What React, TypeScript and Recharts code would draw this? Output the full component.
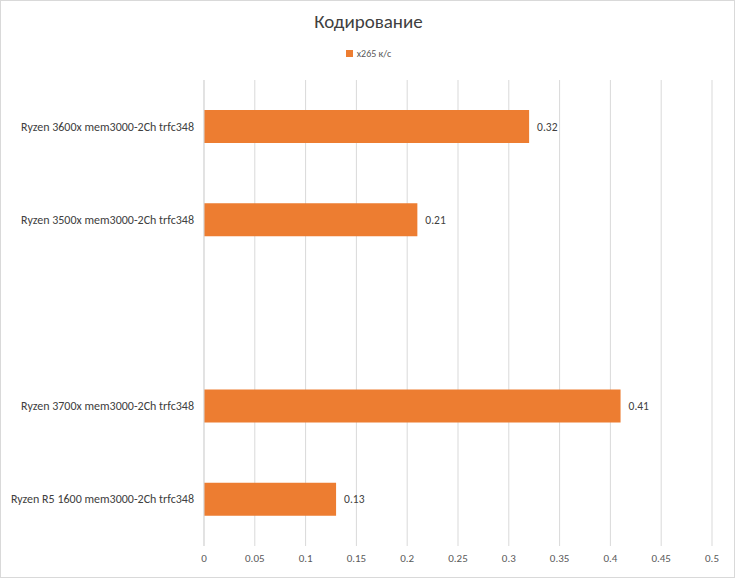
import { BarChart, Bar, XAxis, YAxis, CartesianGrid, LabelList } from 'recharts';

const categories = [
    'Ryzen 3600x mem3000-2Ch trfc348',
    'Ryzen 3500x mem3000-2Ch trfc348',
    '',
    'Ryzen 3700x mem3000-2Ch trfc348',
    'Ryzen R5 1600 mem3000-2Ch trfc348',
];
const x265Values = [0.32, 0.21, null, 0.41, 0.13];
const xTicks = [0, 0.05, 0.1, 0.15, 0.2, 0.25, 0.3, 0.35, 0.4, 0.45, 0.5];

const seriesName = 'x265 к/с';
const FONT = 'Calibri, Carlito, "Liberation Sans", sans-serif';

const data = categories.map((name, i) => ({ name, value: x265Values[i] }));

// single-line category label, Excel doesn't wrap here
function CategoryTick(props: any) {
    const { x, y, payload } = props;
    return (
        <text x={x} y={y} dy={4} textAnchor="end" fontSize={12} fill="#404040" fontFamily={FONT}>
            {payload.value}
        </text>
    );
}

export default function App() {
    return (
        <div
            style={{
                position: 'absolute',
                left: 0,
                top: 0,
                width: 735,
                height: 578,
                boxSizing: 'border-box',
                border: '1px solid #d9d9d9',
                background: '#fff',
                fontFamily: FONT,
            }}
        >
            <div
                style={{
                    position: 'absolute',
                    top: 9,
                    left: 0,
                    width: 735,
                    textAlign: 'center',
                    fontSize: 19,
                    color: '#404040',
                }}
            >
                Кодирование
            </div>
            <div
                style={{
                    position: 'absolute',
                    top: 46,
                    left: 0,
                    width: 735,
                    textAlign: 'center',
                    fontSize: 10,
                    color: '#595959',
                }}
            >
                <span style={{ display: 'inline-block', width: 7, height: 7, background: '#ed7d31', marginRight: 4 }} />
                {seriesName}
            </div>
            <BarChart
                width={733}
                height={576}
                data={data}
                layout="vertical"
                margin={{ top: 79, right: 22, left: 0, bottom: 0 }}
                style={{ position: 'absolute', left: 0, top: 0 }}
            >
                <CartesianGrid horizontal={false} stroke="#d9d9d9" />
                <XAxis
                    type="number"
                    domain={[0, 0.5]}
                    ticks={xTicks}
                    axisLine={false}
                    tickLine={false}
                    height={31}
                    tick={{ fontSize: 11, fill: '#595959', fontFamily: FONT }}
                />
                <YAxis
                    type="category"
                    dataKey="name"
                    width={203}
                    axisLine={{ stroke: '#d9d9d9' }}
                    tickLine={false}
                    tickMargin={4}
                    interval={0}
                    tick={<CategoryTick />}
                />
                <Bar dataKey="value" name={seriesName} fill="#ed7d31" barSize={33} isAnimationActive={false}>
                    <LabelList dataKey="value" position="right" offset={8} fill="#404040" fontSize={11.5} />
                </Bar>
            </BarChart>
        </div>
    );
}
